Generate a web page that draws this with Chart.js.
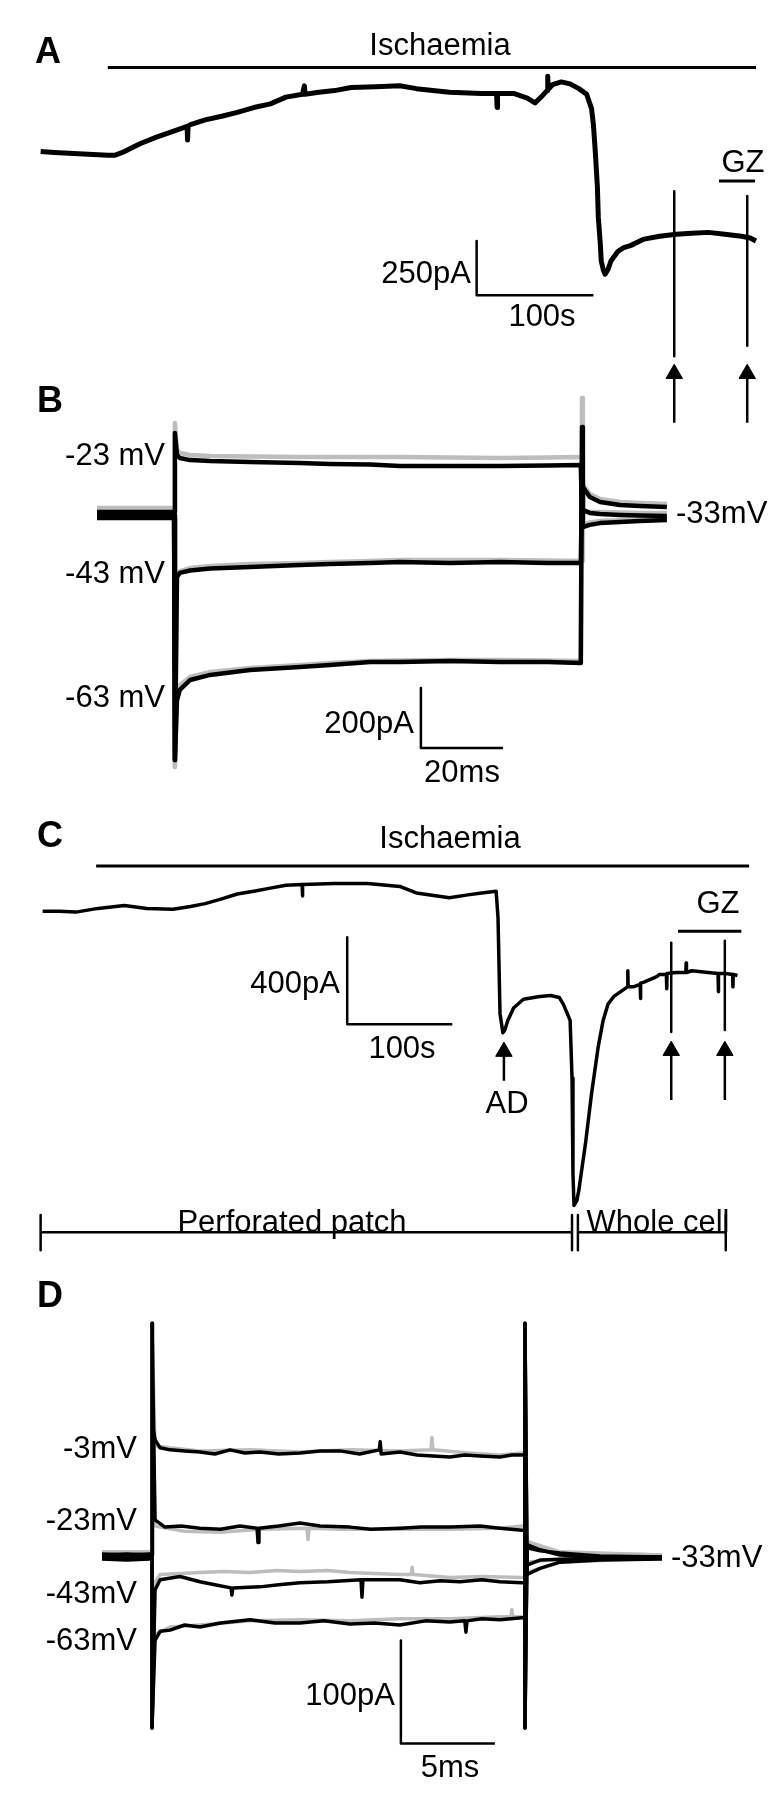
<!DOCTYPE html>
<html>
<head>
<meta charset="utf-8">
<script src="https://cdn.jsdelivr.net/npm/chart.js"></script>
<style>
  body { margin: 0; background: #fff; }
  #page { position: relative; width: 784px; height: 1800px; }
  canvas { position: absolute; left: 0; }
</style>
</head>
<body>
<div id="page">
  <canvas id="panelA" width="784" height="440" style="top:0px"></canvas>
  <canvas id="panelB" width="784" height="420" style="top:380px"></canvas>
  <canvas id="panelC" width="784" height="500" style="top:780px"></canvas>
  <canvas id="panelD" width="784" height="530" style="top:1270px"></canvas>
</div>
<script>
// ---- data: [time, current] ----
// A: seconds, pA (relative to start of recording)
const traceA = [[0, 9], [11.7, 4], [24.2, 0], [40.8, -4], [57.5, -9], [63.3, -9], [70, 4], [85, 44],
  [99.2, 75], [113.3, 101], [125.4, 124], [125.8, 61], [126.2, 125], [128.3, 132], [140.8, 154],
  [155, 171], [168.3, 189], [182.5, 211], [196.7, 228], [210, 259], [224.2, 272], [225.8, 311],
  [226.4, 272], [238.3, 281], [251.7, 289], [265.8, 303], [286.7, 307], [307.5, 311], [321.7, 298],
  [350, 281], [377.5, 276], [390.4, 276], [390.8, 211], [391.2, 276], [405, 276], [416.7, 254],
  [423.3, 232], [430, 268], [433.8, 290], [434.2, 355], [434.6, 295], [438.3, 316], [445.8, 329],
  [453.3, 320], [460.8, 298], [467.5, 272], [471.7, 206], [473.3, 132], [475, 0], [476.7, -154],
  [477.5, -294], [479.2, -417], [480, -496], [481.7, -535], [483.3, -557], [485.8, -535],
  [488.3, -496], [494.2, -452], [499.2, -434], [505, -425], [516.7, -395], [530, -382],
  [544.2, -373], [557.5, -368], [571.7, -364], [585.8, -373], [600, -382], [607.5, -390], [612.5, -404]]
const ischaemiaA = [57.5, 612.5]
const gzA = [580.8, 611.7]
const sweepTimesA = [542.5, 605]

// B: ms, pA (relative to holding at -33 mV); black and grey sweeps share one time grid
const timeB = [0, 9, 18.8, 19.0, 19.0, 19.5, 20.2, 22.7, 27.6, 37.3, 49.5, 56.8, 66.6, 73.9, 86.1,
  98.3, 110, 118.0, 118.3, 118.5, 120.2, 122.7, 127.6, 132.4, 139.0]
const m23Black = [10, 10, 10, 10, 273, 200, 190, 183, 180, 177, 173, 170, 168, 163, 163, 163, 165, 167, -17, 93, 60, 43, 33, 30, 27]
const m43Black = [0, 0, 0, 0, -817, -207, -193, -185, -178, -173, -167, -163, -160, -157, -160, -157, -160, -160, 117, 17, 7, 3, 0, -2, -3]
const m63Black = [-10, -10, -10, -10, -817, -617, -583, -550, -533, -517, -507, -500, -490, -490, -487, -490, -490, -493, 293, -40, -33, -27, -23, -20, -17]
const m23Grey = [23, 23, 23, 23, 307, 217, 207, 200, 197, 195, 193, 193, 193, 193, 192, 190, 192, 193, 193, 100, 70, 53, 43, 40, 37]
const m43Grey = [17, 17, 17, 17, -840, -200, -187, -177, -170, -163, -160, -157, -153, -150, -150, -150, -152, -153, -153, 10, 10, 10, 8, 7, 7]
const m63Grey = [13, 13, 13, 13, -840, -600, -567, -540, -523, -510, -500, -493, -487, -485, -483, -483, -485, -487, 390, -30, -25, -20, -17, -15, -13]

// C: seconds, pA
const traceC = [[0, 0], [15.7, 0], [31.5, -4], [52.8, 13], [77.8, 26], [99.1, 13], [124.1, 9], [140.7, 22],
  [154.6, 35], [170.4, 57], [185.2, 79], [200.9, 92], [216.7, 106], [231.5, 119], [246.9, 123],
  [247.2, 70], [247.5, 123], [277.8, 127], [309.3, 127], [339.8, 114], [355.6, 84], [387.0, 62],
  [404.6, 75], [417.6, 84], [431.5, 92], [433.3, -31], [435.2, -470], [437.9, -558], [439.8, -545],
  [442.6, -501], [448.1, -444], [457.4, -404], [473.1, -391], [483.3, -387], [491.7, -396],
  [495.4, -426], [498.1, -457], [501.9, -501], [503.7, -765], [504.6, -1205], [505.6, -1350],
  [508.3, -1328], [510.2, -1280], [516.7, -1059], [522.2, -840], [528.7, -620], [533.3, -501],
  [538.0, -426], [543.5, -391], [550, -369], [556.5, -347], [556.8, -273], [557.1, -347],
  [562.0, -347], [568.5, -336], [568.8, -400], [569.1, -330], [572.2, -325], [584.3, -300],
  [587.0, -290], [593.5, -290], [593.8, -356], [594.1, -286], [602.8, -281], [612.0, -281],
  [612.3, -237], [612.6, -281], [617.6, -273], [633.3, -281], [642.6, -286], [642.9, -369],
  [643.2, -286], [650, -286], [656.5, -290], [656.8, -347], [657.1, -290], [661.1, -295]]
const ischaemiaC = [50.9, 672.2]
const gzC = [604.6, 664.8]
const sweepTimesC = [598.1, 649.1]
const adTimeC = 438.9
const perforatedC = [-1.9, 503.7]
const wholeCellC = [509.3, 650]

// D: ms, pA
const dM3Black = [[0, 2], [1.3, 3], [2.55, 2], [2.66, 2], [2.66, 227], [2.71, 128], [2.82, 114], [3.09, 106],
  [3.62, 104], [4.4, 103], [5.21, 102], [6.0, 100], [6.81, 104], [7.6, 101], [8.4, 102], [9.4, 100],
  [10.53, 101], [11.6, 103], [12.66, 103], [13.7, 100], [14.75, 104], [14.8, 112], [14.85, 100],
  [15.85, 102], [16.76, 99], [17.6, 98], [18.51, 97], [19.3, 99], [20.11, 98], [21.17, 97], [21.8, 99],
  [22.34, 99], [22.5, 99], [22.5, -166], [22.61, 12], [23.3, 7], [24.36, 2], [26.49, 0], [29.79, 0]]
const dM23Black = [[0, 0], [1.3, -1], [2.55, 0], [2.66, 0], [2.66, 227], [2.82, 36], [3.35, 29], [4.2, 30],
  [5.21, 28], [6.3, 27], [7.34, 30], [8.25, 28], [8.3, 14], [8.35, 28], [9.4, 30], [10.53, 33],
  [11.6, 30], [13.19, 29], [14.3, 27], [15.85, 28], [17.0, 29], [18.51, 29], [20.11, 30], [21.17, 28],
  [22.34, 26], [22.5, 26], [22.5, -166], [22.61, 9], [23.3, 6], [24.36, 4], [26.49, 1], [29.79, 0]]
const dM43Black = [[0, -2], [1.3, -3], [2.55, -2], [2.66, -2], [2.66, -166], [2.82, -32], [3.09, -22],
  [4.15, -19], [5.21, -24], [6.0, -27], [6.86, -30], [6.91, -37], [6.96, -30], [8.4, -29], [9.4, -27],
  [10.53, -25], [12.0, -24], [13.78, -22], [13.83, -39], [13.88, -22], [15.85, -22], [16.91, -25],
  [18.0, -23], [19.04, -24], [20.2, -22], [21.17, -24], [22.34, -25], [22.5, -25], [22.5, 227],
  [22.61, -17], [23.3, -11], [24.36, -5], [26.49, -3], [29.79, -2]]
const dM63Black = [[0, 3], [1.3, 2], [2.55, 3], [2.66, 3], [2.66, -166], [2.82, -81], [3.1, -72], [3.62, -71],
  [4.4, -66], [5.21, -68], [6.3, -64], [7.87, -61], [9.2, -64], [10.53, -64], [11.8, -62], [13.19, -65],
  [14.5, -64], [15.85, -66], [17.2, -62], [18.5, -63], [19.3, -62], [19.36, -73], [19.42, -62],
  [20.2, -60], [21.17, -61], [22.34, -59], [22.5, -59], [22.5, 227], [22.61, -8], [23.3, -3],
  [26.49, -1], [29.79, 0]]
const dM3Grey = [[0, 4], [2.55, 4], [2.66, 4], [2.66, 227], [2.82, 108], [3.6, 106], [5.21, 103], [7.9, 104],
  [10.53, 102], [13.2, 104], [15.85, 103], [17.5, 104], [17.55, 116], [17.6, 104], [19.5, 101],
  [21.17, 99], [22.34, 101], [22.5, 101], [22.5, -166], [22.61, 14], [24.36, 4], [29.79, 2]]
const dM23Grey = [[0, 2], [2.55, 2], [2.66, 2], [2.66, 227], [2.82, 30], [4.4, 25], [6.3, 24], [8.4, 27],
  [10.9, 28], [10.96, 17], [11.02, 28], [12.8, 27], [15.85, 27], [18.51, 27], [21.17, 28], [22.34, 30],
  [22.5, 30], [22.5, -166], [22.61, 15], [24.36, 5], [29.79, 2]]
const dM43Grey = [[0, 0], [2.55, 0], [2.66, 0], [2.66, -166], [2.82, -25], [3.09, -17], [4.15, -16],
  [5.21, -15], [6.5, -14], [7.87, -15], [9.3, -13], [10.53, -14], [12, -13], [13.19, -15], [14.5, -16],
  [15.85, -17], [16.45, -17], [16.5, -10], [16.55, -17], [18.51, -20], [20.2, -19], [22.34, -20],
  [22.5, -20], [22.5, 227], [22.61, -15], [24.36, -5], [29.79, -1]]
const dM63Grey = [[0, 5], [2.55, 5], [2.66, 5], [2.66, -166], [2.82, -75], [3.62, -68], [5.21, -66],
  [7.87, -62], [10.53, -61], [13.19, -62], [15.85, -60], [18.51, -60], [21.17, -58], [21.75, -58],
  [21.8, -51], [21.85, -58], [22.34, -58], [22.5, -58], [22.5, 227], [22.61, -5], [24.36, -2], [29.79, 1]]

// ---- drawing ----
const BLACK = '#000'
const GREY = '#bdbdbd'
const FONT = '"Liberation Sans", Arial, sans-serif'

function line (points, color, width) {
  return {
    data: points.map(p => ({ x: p[0], y: p[1] })),
    borderColor: color,
    borderWidth: width,
    pointRadius: 0,
    spanGaps: false
  }
}

function zip (times, values) {
  return times.map((t, i) => [t, values[i]])
}

function hbar (range, level, width) {
  return line([[range[0], level], [range[1], level]], BLACK, width)
}

function vbar (t, from, to, width) {
  return line([[t, from], [t, to]], BLACK, width)
}

function bracket (range, level, low, high) {
  return [hbar(range, level, 2.5), vbar(range[0], low, high, 2.5), vbar(range[1], low, high, 2.5)]
}

function arrow (t, tail, head) {
  const ds = line([[t, tail], [t, head]], BLACK, 2.5)
  ds.pointRadius = [0, 9.5]
  ds.pointStyle = 'triangle'
  ds.pointBackgroundColor = BLACK
  ds.pointBorderColor = BLACK
  ds.pointBorderWidth = 1
  return ds
}

// vertical bar of di, horizontal bar of dt, meeting at corner
function scaleBar (corner, dt, di) {
  return line([[corner[0], corner[1] + di], corner, [corner[0] + dt, corner[1]]], BLACK, 2.5)
}

function textPlugin (labels, top) {
  return {
    id: 'panelText',
    afterDatasetsDraw (chart) {
      const ctx = chart.ctx
      ctx.save()
      ctx.fillStyle = BLACK
      ctx.textBaseline = 'alphabetic'
      labels.forEach(([text, x, y, align, bold]) => {
        ctx.font = (bold ? 'bold 36px ' : '31px ') + FONT
        ctx.textAlign = align
        ctx.fillText(text, x, y - top)
      })
      ctx.restore()
    }
  }
}

// first dataset is painted last (on top) in Chart.js
function panel (id, datasets, range, labels) {
  const canvas = document.getElementById(id)
  return new Chart(canvas.getContext('2d'), {
    type: 'line',
    data: { datasets: datasets },
    options: {
      responsive: false,
      animation: false,
      events: [],
      layout: { padding: 0 },
      plugins: { legend: { display: false }, tooltip: { enabled: false } },
      elements: { line: { tension: 0, borderJoinStyle: 'round' } },
      scales: {
        x: { type: 'linear', display: false, min: range.x[0], max: range.x[1] },
        y: { type: 'linear', display: false, min: range.y[0], max: range.y[1] }
      }
    },
    plugins: [textPlugin(labels, canvas.offsetTop)]
  })
}

panel('panelA', [
  line(traceA, BLACK, 5),
  hbar(ischaemiaA, 395, 3),
  hbar(gzA, -127, 3),
  vbar(sweepTimesA[0], -175, -934, 2.5),
  vbar(sweepTimesA[1], -197, -886, 2.5),
  arrow(sweepTimesA[0], -1241, -1015),
  arrow(sweepTimesA[1], -1241, -1015),
  scaleBar([373.3, -654], 100, 250)
], { x: [-25.83, 627.5], y: [-1271.9, 657.9] }, [
  ['A', 35, 63, 'left', true],
  ['Ischaemia', 440, 55, 'center'],
  ['GZ', 743, 172, 'center'],
  ['250pA', 471, 283, 'right'],
  ['100s', 542, 326, 'center']
])

panel('panelB', [
  line(zip(timeB, m23Black), BLACK, 4.5),
  line(zip(timeB, m43Black), BLACK, 4.5),
  line(zip(timeB, m63Black), BLACK, 4.5),
  line(zip(timeB, m23Grey), GREY, 4.5),
  line(zip(timeB, m43Grey), GREY, 4.5),
  line(zip(timeB, m63Grey), GREY, 4.5),
  scaleBar([79.0, -777], 20, 200)
], { x: [-23.66, 167.56], y: [-950, 450] }, [
  ['B', 37, 412, 'left', true],
  ['-23 mV', 165, 465, 'right'],
  ['-43 mV', 165, 583, 'right'],
  ['-63 mV', 165, 707, 'right'],
  ['-33mV', 676, 523, 'left'],
  ['200pA', 414, 733, 'right'],
  ['20ms', 462, 782, 'center']
])

panel('panelC', [
  line(traceC, BLACK, 3.5),
  hbar(ischaemiaC, 207, 3),
  hbar(gzC, -92, 3),
  vbar(sweepTimesC[0], -145, -554, 2.5),
  vbar(sweepTimesC[1], -136, -545, 2.5),
  arrow(sweepTimesC[0], -866, -640),
  arrow(sweepTimesC[1], -866, -640),
  arrow(adTimeC, -778, -644),
  ...bracket(perforatedC, -1473, -1394, -1556),
  ...bracket(wholeCellC, -1473, -1394, -1556),
  scaleBar([289.8, -519], 100, 400)
], { x: [-30.56, 695.4], y: [-1644, 554] }, [
  ['C', 37, 847, 'left', true],
  ['Ischaemia', 450, 848, 'center'],
  ['GZ', 718, 913, 'center'],
  ['400pA', 340, 993, 'right'],
  ['100s', 402, 1058, 'center'],
  ['AD', 507, 1113, 'center'],
  ['Perforated patch', 292, 1232, 'center'],
  ['Whole cell', 658, 1232, 'center']
])

panel('panelD', [
  line(dM3Black, BLACK, 3.5),
  line(dM23Black, BLACK, 3.5),
  line(dM43Black, BLACK, 3.5),
  line(dM63Black, BLACK, 3.5),
  line(dM3Grey, GREY, 3.5),
  line(dM23Grey, GREY, 3.5),
  line(dM43Grey, GREY, 3.5),
  line(dM63Grey, GREY, 3.5),
  scaleBar([15.9, -181], 5, 100)
], { x: [-5.426, 36.28], y: [-235.9, 278.6] }, [
  ['D', 37, 1307, 'left', true],
  ['-3mV', 137, 1458, 'right'],
  ['-23mV', 137, 1530, 'right'],
  ['-43mV', 137, 1603, 'right'],
  ['-63mV', 137, 1650, 'right'],
  ['-33mV', 671, 1567, 'left'],
  ['100pA', 395, 1705, 'right'],
  ['5ms', 450, 1777, 'center']
])
</script>
</body>
</html>
